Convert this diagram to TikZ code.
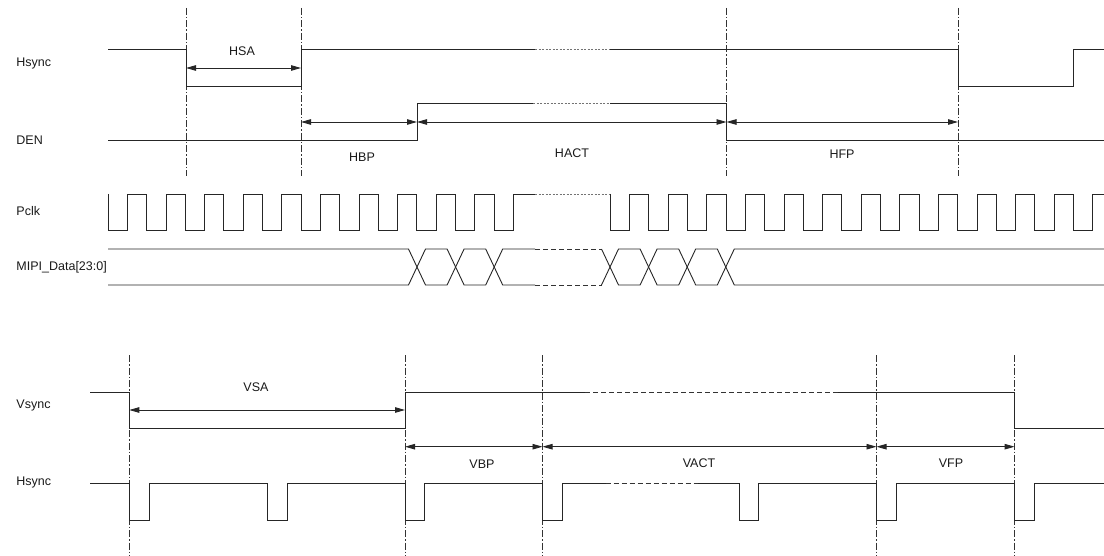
\documentclass[tikz,border=0pt]{standalone}
\usepackage{fontspec}
\setmainfont{Liberation Sans}
\usetikzlibrary{arrows.meta}
\begin{document}
\begin{tikzpicture}[x=1pt,y=-1pt,
  sig/.style={line width=0.9pt, black!85, line join=miter},
  guide/.style={line width=0.6pt, black!80, dash pattern=on 7pt off 2pt on 1.5pt off 2pt},
  dimline/.style={line width=0.9pt, black!85, {Triangle[length=10pt,width=5.5pt]}-{Triangle[length=10pt,width=5.5pt]}},
  dotseg/.style={line width=0.9pt, black!55, dash pattern=on 2pt off 1.5pt},
  dashseg/.style={line width=0.9pt, black!80, dash pattern=on 5pt off 3pt},
  lab/.style={font=\fontsize{12.5}{14}\selectfont, inner sep=0pt, text=black!90},
  sidelab/.style={lab, anchor=west}]

\useasboundingbox (0,0) rectangle (1104,556);

% ---------- signal names ----------
\node[lab, anchor=east] (lmipi) at (107,267) {MIPI\_Data[23:0]};
\coordinate (yhs) at (0,63);
\coordinate (yden) at (0,140);
\coordinate (ypclk) at (0,211);
\coordinate (yvs) at (0,405);
\coordinate (yhs2) at (0,482);
\node[sidelab] (lhs)   at (lmipi.west |- yhs)   {Hsync};
\node[sidelab] (lden)  at (lmipi.west |- yden)  {DEN};
\node[sidelab] (lpclk) at (lmipi.west |- ypclk) {Pclk};
\node[sidelab] (lvs)   at (lmipi.west |- yvs)   {Vsync};
\node[sidelab] (lhs2)  at (lmipi.west |- yhs2)  {Hsync};

% ---------- top guides ----------
\foreach \x/\n in {186/ga, 301/gb, 726.5/gc, 958/gd} {
  \coordinate (\n t) at (\x,8);
  \coordinate (\n b) at (\x,176);
  \draw[guide] (\n t) -- (\n b);
}

% ---------- Hsync (line) ----------
\draw[sig] (108,49) -- (186,49) -- (186,86) -- (301,86) -- (301,49) -- (535,49);
\draw[dotseg] (535,49) -- (610,49);
\draw[sig] (610,49) -- (958,49) -- (958,86) -- (1073,86) -- (1073,49) -- (1104,49);

% ---------- DEN ----------
\draw[sig] (108,140) -- (417,140) -- (417,103) -- (533,103);
\draw[dotseg] (533,103) -- (610,103);
\draw[sig] (610,103) -- (726.5,103) -- (726.5,140) -- (1104,140);

% ---------- dimension arrows (top) ----------
\coordinate (hsaL) at (186,68);   \coordinate (hsaR) at (301,68);
\coordinate (hbpL) at (301,122);  \coordinate (hbpR) at (417,122);
\coordinate (hacR) at (726.5,122);\coordinate (hfpR) at (958,122);
\draw[dimline] (hsaL) -- (hsaR);
\draw[dimline] (hbpL) -- (hbpR);
\draw[dimline] (hbpR) -- (hacR);
\draw[dimline] (hacR) -- (hfpR);
\node[lab] (thsa)  at (242,51)  {HSA};
\node[lab] (thbp)  at (362,157) {HBP};
\node[lab] (thact) at (572,153) {HACT};
\node[lab] (thfp)  at (842,154) {HFP};

% ---------- Pclk ----------
\draw[sig] (108,194) -- (108,230)
  foreach \k in {0,...,9} { -- ({127.4+38.6*\k},230) -- ({127.4+38.6*\k},194)
                            -- ({146.7+38.6*\k},194) -- ({146.7+38.6*\k},230) }
  -- (513.4,230) -- (513.4,194) -- (535,194);
\draw[dotseg] (535,194) -- (610,194);
\draw[sig] (610,194) -- (610,230)
  foreach \k in {0,...,11} { -- ({629.6+38.6*\k},230) -- ({629.6+38.6*\k},194)
                             -- ({648.9+38.6*\k},194) -- ({648.9+38.6*\k},230) }
  -- (1092.8,230) -- (1092.8,194) -- (1104,194);

% ---------- MIPI data ----------
\draw[sig] (108,249) -- (408.5,249) -- (425.5,285) -- (447.1,285) -- (464.1,249)
  -- (485.7,249) -- (502.7,285) -- (535,285);
\draw[sig] (108,285) -- (408.5,285) -- (425.5,249) -- (447.1,249) -- (464.1,285)
  -- (485.7,285) -- (502.7,249) -- (535,249);
\draw[dashseg] (535,249) -- (601.5,249);
\draw[dashseg] (535,285) -- (601.5,285);
\draw[sig] (601.5,249) -- (618.5,285) -- (640.1,285) -- (657.1,249) -- (678.7,249)
  -- (695.7,285) -- (717.3,285) -- (734.3,249) -- (1104,249);
\draw[sig] (601.5,285) -- (618.5,249) -- (640.1,249) -- (657.1,285) -- (678.7,285)
  -- (695.7,249) -- (717.3,249) -- (734.3,285) -- (1104,285);

% ---------- bottom guides ----------
\foreach \x/\n in {129.3/va, 405/vb, 542.5/vc, 876.5/vd, 1014.6/ve} {
  \coordinate (\n t) at (\x,355);
  \coordinate (\n b) at (\x,556);
  \draw[guide] (\n t) -- (\n b);
}

% ---------- Vsync ----------
\draw[sig] (90,392) -- (129.3,392) -- (129.3,428) -- (405,428) -- (405,392) -- (585,392);
\draw[dashseg] (585,392) -- (838,392);
\draw[sig] (838,392) -- (1014.6,392) -- (1014.6,428) -- (1104,428);

% ---------- Hsync (frame) ----------
\draw[sig] (90,483) -- (129.3,483) -- (129.3,520) -- (149.3,520) -- (149.3,483)
  -- (267.7,483) -- (267.7,520) -- (287,520) -- (287,483)
  -- (405,483) -- (405,520) -- (424.3,520) -- (424.3,483)
  -- (542.5,483) -- (542.5,520) -- (562,520) -- (562,483) -- (605.7,483);
\draw[dashseg] (605.7,483) -- (698,483);
\draw[sig] (698,483) -- (739,483) -- (739,520) -- (758.7,520) -- (758.7,483)
  -- (876.5,483) -- (876.5,520) -- (896,520) -- (896,483)
  -- (1014.6,483) -- (1014.6,520) -- (1034,520) -- (1034,483) -- (1104,483);

% ---------- dimension arrows (bottom) ----------
\coordinate (vsaL) at (129.3,410);  \coordinate (vsaR) at (405,410);
\coordinate (vbpL) at (405,446.7);  \coordinate (vbpR) at (542.5,446.7);
\coordinate (vacR) at (876.5,446.7);\coordinate (vfpR) at (1014.6,446.7);
\draw[dimline] (vsaL) -- (vsaR);
\draw[dimline] (vbpL) -- (vbpR);
\draw[dimline] (vbpR) -- (vacR);
\draw[dimline] (vacR) -- (vfpR);
\node[lab] (tvsa)  at (256,387) {VSA};
\node[lab] (tvbp)  at (482,464) {VBP};
\node[lab] (tvact) at (699,463) {VACT};
\node[lab] (tvfp)  at (951,463) {VFP};

\end{tikzpicture}
\end{document}
